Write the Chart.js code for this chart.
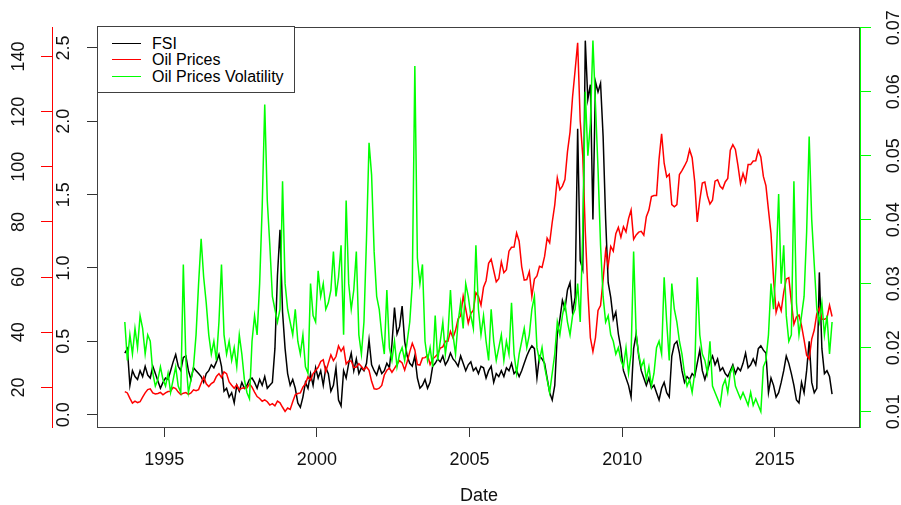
<!DOCTYPE html>
<html>
<head>
<meta charset="utf-8">
<title>FSI, Oil Prices and Oil Prices Volatility</title>
<script src="https://cdn.jsdelivr.net/npm/chart.js"></script>
<style>
  body { margin: 0; background: #fff; font-family: "Liberation Sans", Arial, sans-serif; }
  #wrap { position: relative; width: 901px; height: 505px; }
  #legend { position: absolute; left: 97px; top: 26px; width: 198px; height: 67px; box-sizing: border-box;
            border: 1px solid #404040; background: #fff; font-size: 16px; color: #000; }
  #legend .row { position: absolute; left: 0; height: 18px; line-height: 18px; white-space: nowrap; }
  #legend .key { position: absolute; left: 14px; top: 8px; width: 29px; height: 1.4px; }
  #legend .label { position: absolute; left: 54px; top: 0; }
</style>
</head>
<body>
<div id="wrap">
  <canvas id="chart" width="901" height="505"></canvas>
  <div id="legend">
    <div class="row" style="top: 8px;"><span class="key" style="background: #000;"></span><span class="label">FSI</span></div>
    <div class="row" style="top: 24px;"><span class="key" style="background: #ff0000;"></span><span class="label">Oil Prices</span></div>
    <div class="row" style="top: 41px;"><span class="key" style="background: #00ff00;"></span><span class="label">Oil Prices Volatility</span></div>
  </div>
</div>

<script>
// monthly readings, Sep 1993 .. Nov 2016
const fsi = [
  0.42, 0.45, 0.20, 0.30,
  0.26, 0.24, 0.30, 0.26, 0.33, 0.27, 0.25, 0.33, 0.28, 0.23, 0.18, 0.22,
  0.25, 0.24, 0.30, 0.36, 0.41, 0.33, 0.30, 0.39, 0.40, 0.30, 0.24, 0.32,
  0.30, 0.28, 0.26, 0.22, 0.28, 0.30, 0.34, 0.32, 0.36, 0.41, 0.33, 0.16,
  0.18, 0.12, 0.15, 0.08, 0.20, 0.16, 0.22, 0.18, 0.20, 0.24, 0.25, 0.22,
  0.18, 0.24, 0.20, 0.26, 0.18, 0.20, 0.22, 0.45, 0.95, 1.26, 0.70, 0.45,
  0.28, 0.20, 0.24, 0.18, 0.08, 0.05, 0.12, 0.22, 0.18, 0.28, 0.20, 0.32,
  0.25, 0.30, 0.20, 0.32, 0.28, 0.16, 0.20, 0.32, 0.10, 0.06, 0.30, 0.25,
  0.35, 0.42, 0.30, 0.38, 0.28, 0.32, 0.30, 0.35, 0.51, 0.34, 0.30, 0.27,
  0.33, 0.28, 0.30, 0.35, 0.32, 0.48, 0.73, 0.55, 0.60, 0.74, 0.50, 0.40,
  0.35, 0.33, 0.40, 0.25, 0.18, 0.20, 0.24, 0.18, 0.22, 0.33, 0.35, 0.38,
  0.36, 0.40, 0.34, 0.37, 0.42, 0.38, 0.36, 0.33, 0.40, 0.35, 0.30, 0.34,
  0.36, 0.30, 0.32, 0.28, 0.33, 0.32, 0.25, 0.30, 0.33, 0.22, 0.28, 0.26,
  0.30, 0.26, 0.32, 0.30, 0.35, 0.28, 0.30, 0.26, 0.30, 0.35, 0.40, 0.44,
  0.47, 0.45, 0.25, 0.40, 0.38, 0.35, 0.25, 0.15, 0.10, 0.20, 0.55, 0.65,
  0.78, 0.72, 0.85, 0.90, 0.70, 0.80, 1.95, 1.05, 0.99, 2.55, 2.15, 2.25,
  1.33, 2.27, 2.20, 2.26, 1.90, 1.33, 0.90, 0.80, 0.65, 0.70, 0.55, 0.45,
  0.30, 0.25, 0.20, 0.12, 0.45, 0.55, 0.40, 0.30, 0.25, 0.20, 0.25, 0.18,
  0.20, 0.15, 0.10, 0.18, 0.22, 0.15, 0.12, 0.40, 0.48, 0.50, 0.42, 0.30,
  0.22, 0.26, 0.24, 0.28, 0.26, 0.35, 0.44, 0.30, 0.24, 0.30, 0.36, 0.40,
  0.34, 0.38, 0.30, 0.32, 0.28, 0.26, 0.30, 0.34, 0.28, 0.32, 0.30, 0.35,
  0.42, 0.32, 0.34, 0.38, 0.34, 0.45, 0.47, 0.44, 0.42, 0.15, 0.25, 0.20,
  0.12, 0.15, 0.22, 0.30, 0.40, 0.35, 0.28, 0.20, 0.10, 0.08, 0.22, 0.15,
  0.30, 0.50, 0.22, 0.15, 0.18, 0.97, 0.45, 0.28, 0.30, 0.26, 0.14
];

const oilPrices = [
  18.5, 18.0, 16.0, 14.3,
  15.0, 14.5, 14.8, 16.5, 18.0, 19.2, 19.5, 18.0, 17.6, 17.8, 18.2, 17.3,
  18.0, 18.5, 18.6, 20.0, 19.6, 18.3, 17.4, 17.9, 18.1, 17.5, 18.0, 19.1,
  18.8, 19.2, 21.5, 23.8, 21.3, 20.3, 21.4, 22.0, 24.0, 25.0, 23.6, 25.6,
  25.0, 22.0, 20.8, 19.7, 20.9, 19.1, 19.7, 19.9, 19.8, 21.3, 20.1, 18.3,
  16.7, 16.0, 15.0, 15.5, 14.8, 13.6, 14.1, 13.3, 15.0, 14.4, 12.8, 11.3,
  12.5, 12.0, 14.8, 17.3, 17.8, 18.0, 20.1, 21.3, 23.9, 22.6, 25.0, 26.1,
  27.3, 29.4, 30.0, 25.7, 28.8, 31.8, 29.7, 31.2, 35.0, 33.1, 34.6, 28.5,
  29.6, 29.6, 27.2, 27.4, 28.6, 27.6, 26.4, 27.4, 26.2, 22.2, 19.5, 19.3,
  19.7, 20.7, 24.5, 26.2, 27.0, 25.5, 26.9, 28.4, 29.7, 28.9, 26.3, 29.4,
  32.9, 36.0, 33.6, 28.3, 28.1, 30.7, 30.8, 31.6, 28.3, 30.3, 31.1, 32.1,
  34.3, 34.7, 36.7, 36.7, 40.3, 38.0, 40.7, 44.9, 45.9, 53.1, 48.5, 43.3,
  46.8, 48.0, 54.3, 53.0, 49.8, 56.3, 58.7, 65.0, 66.5, 62.4, 58.3, 59.4,
  65.5, 61.6, 62.7, 69.4, 70.8, 70.9, 76.0, 73.0, 63.8, 58.9, 59.1, 62.0,
  53.0, 59.3, 60.4, 63.9, 63.5, 67.5, 74.1, 72.4, 79.9, 86.2, 96.0, 91.7,
  93.0, 95.4, 105.5, 112.6, 125.4, 135.0, 145.0, 116.7, 104.1, 76.6, 55.0, 38.0,
  33.0, 38.0, 47.9, 49.7, 59.0, 69.6, 64.2, 71.1, 69.4, 75.7, 78.0, 74.5,
  78.3, 76.4, 81.2, 84.3, 73.7, 75.3, 76.3, 76.6, 75.2, 81.9, 84.3, 89.2,
  89.6, 89.6, 102.9, 112.0, 101.3, 96.3, 97.3, 86.3, 85.5, 86.3, 97.2, 98.6,
  100.3, 102.2, 106.2, 103.3, 94.7, 80.0, 87.9, 94.1, 94.5, 89.5, 86.5, 87.9,
  94.8, 95.3, 92.9, 92.0, 94.5, 95.8, 106.0, 108.0, 106.3, 100.5, 93.9, 97.6,
  94.6, 100.8, 100.8, 102.1, 102.2, 106.0, 103.6, 96.5, 93.2, 84.4, 75.8, 59.3,
  47.2, 50.6, 47.8, 54.5, 59.3, 59.8, 50.9, 42.9, 45.5, 46.2, 42.4, 37.2,
  31.7, 30.3, 37.5, 40.8, 46.7, 48.8, 44.7, 44.7, 45.2, 49.8, 45.7
];

const oilVolatility = [
  0.024, 0.018, 0.022, 0.019,
  0.023, 0.020, 0.025, 0.023, 0.019, 0.022, 0.021, 0.016, 0.014, 0.015, 0.017, 0.015,
  0.014, 0.016, 0.013, 0.015, 0.017, 0.014, 0.013, 0.033, 0.018, 0.013, 0.015, 0.017,
  0.022, 0.030, 0.037, 0.031, 0.027, 0.022, 0.019, 0.021, 0.018, 0.024, 0.033, 0.022,
  0.019, 0.021, 0.018, 0.020, 0.017, 0.022, 0.019, 0.015, 0.013, 0.012, 0.021, 0.025,
  0.022, 0.030, 0.042, 0.058, 0.043, 0.036, 0.028, 0.026, 0.024, 0.026, 0.046, 0.030,
  0.026, 0.024, 0.022, 0.026, 0.021, 0.019, 0.022, 0.017, 0.016, 0.030, 0.025, 0.024,
  0.032, 0.028, 0.030, 0.026, 0.027, 0.029, 0.035, 0.028, 0.031, 0.036, 0.022, 0.043,
  0.030, 0.026, 0.029, 0.035, 0.022, 0.019, 0.024, 0.037, 0.052, 0.047, 0.035, 0.028,
  0.026, 0.022, 0.019, 0.029, 0.020, 0.018, 0.021, 0.017, 0.019, 0.020, 0.018, 0.021,
  0.024, 0.030, 0.064, 0.034, 0.030, 0.033, 0.021, 0.018, 0.020, 0.017, 0.025, 0.018,
  0.021, 0.024, 0.019, 0.022, 0.029, 0.022, 0.019, 0.024, 0.027, 0.023, 0.030, 0.028,
  0.025, 0.023, 0.036, 0.026, 0.022, 0.025, 0.021, 0.018, 0.026, 0.021, 0.018, 0.020,
  0.022, 0.018, 0.021, 0.019, 0.027, 0.019, 0.016, 0.019, 0.021, 0.023, 0.020, 0.022,
  0.026, 0.028, 0.020, 0.018, 0.020, 0.017, 0.015, 0.013, 0.016, 0.019, 0.024, 0.022,
  0.025, 0.027, 0.024, 0.022, 0.025, 0.026, 0.030, 0.024, 0.038, 0.060, 0.050, 0.055,
  0.068, 0.058, 0.048, 0.036, 0.028, 0.024, 0.025, 0.022, 0.021, 0.019, 0.020, 0.018,
  0.017, 0.020, 0.016, 0.019, 0.035, 0.022, 0.019, 0.017, 0.018, 0.015, 0.017, 0.014,
  0.016, 0.020, 0.021, 0.019, 0.031, 0.024, 0.018, 0.030, 0.026, 0.024, 0.021, 0.019,
  0.016, 0.014, 0.015, 0.013, 0.016, 0.031, 0.022, 0.019, 0.018, 0.016, 0.021, 0.014,
  0.013, 0.012, 0.011, 0.014, 0.015, 0.013, 0.016, 0.017, 0.014, 0.013, 0.012, 0.013,
  0.012, 0.011, 0.013, 0.011, 0.012, 0.011, 0.010, 0.017, 0.018, 0.022, 0.030, 0.026,
  0.033, 0.044, 0.030, 0.036, 0.025, 0.021, 0.022, 0.046, 0.027, 0.022, 0.025, 0.028,
  0.038, 0.053, 0.040, 0.033, 0.026, 0.024, 0.027, 0.022, 0.025, 0.019, 0.024
];

const yearTicks = [1995, 2000, 2005, 2010, 2015];
const fsiTicks = [0, 0.5, 1, 1.5, 2, 2.5];
const oilTicks = [20, 40, 60, 80, 100, 120, 140];
const volTicks = [0.01, 0.02, 0.03, 0.04, 0.05, 0.06, 0.07];

// decimal year at the middle of each month, starting Sep 1993
const dates = [];
for (let y = 1993, m = 9; dates.length < fsi.length; ) {
  dates.push(y + (m - 0.5) / 12);
  if (++m > 12) { m = 1; y++; }
}
const points = values => values.map((v, i) => ({ x: dates[i], y: v }));

const tickFont = { family: '"Liberation Sans", Arial, sans-serif', size: 18 };
const useTicks = values => scale => { scale.ticks = values.map(v => ({ value: v })); };
const fixWidth = w => scale => { scale.width = w; };

// grey frame round the plot area, like R's box()
const plotFrame = {
  id: 'plotFrame',
  afterDatasetsDraw(chart) {
    const { ctx, chartArea: a } = chart;
    ctx.save();
    ctx.strokeStyle = '#404040';
    ctx.lineWidth = 1;
    ctx.strokeRect(a.left - 0.5, a.top + 0.5, a.right - a.left, a.bottom - a.top);
    ctx.restore();
  }
};

new Chart(document.getElementById('chart'), {
  type: 'line',
  data: {
    datasets: [
      { label: 'FSI', data: points(fsi), yAxisID: 'yFsi', borderColor: '#000000', order: 2 },
      { label: 'Oil Prices', data: points(oilPrices), yAxisID: 'yOil', borderColor: '#ff0000', order: 1 },
      { label: 'Oil Prices Volatility', data: points(oilVolatility), yAxisID: 'yVol', borderColor: '#00ff00', order: 0 }
    ]
  },
  options: {
    responsive: false,
    animation: false,
    layout: { padding: { top: 27, left: 0, right: 0, bottom: 0 } },
    elements: {
      line: { borderWidth: 1.5, tension: 0, fill: false },
      point: { radius: 0, hoverRadius: 0 }
    },
    plugins: { legend: { display: false }, tooltip: { enabled: false } },
    scales: {
      x: {
        type: 'linear', position: 'bottom', min: 1992.83, max: 2017.79,
        afterBuildTicks: useTicks(yearTicks),
        afterFit: scale => { scale.height = 78; },
        border: { display: false },
        grid: { drawOnChartArea: false, tickLength: 10, tickColor: '#333' },
        ticks: { font: tickFont, color: '#111', padding: 12, autoSkip: false, maxRotation: 0, callback: v => String(v) },
        title: { display: true, text: 'Date', color: '#111', font: { ...tickFont, lineHeight: 1 }, padding: { top: 0, bottom: 0 } }
      },
      yOil: {
        type: 'linear', position: 'left', weight: 2, min: 5.64, max: 150.7,
        afterBuildTicks: useTicks(oilTicks),
        afterFit: fixWidth(52),
        border: { display: true, color: '#ff0000', width: 1 },
        grid: { drawOnChartArea: false, tickLength: 11, tickColor: '#ff0000' },
        ticks: { font: tickFont, color: '#111', padding: 7, minRotation: 90, maxRotation: 90,
                 crossAlign: 'center', autoSkip: false, callback: v => String(v) }
      },
      yFsi: {
        type: 'linear', position: 'left', weight: 1, min: -0.084, max: 2.643,
        afterBuildTicks: useTicks(fsiTicks),
        afterFit: fixWidth(46),
        border: { display: false },
        grid: { drawOnChartArea: false, tickLength: 11, tickColor: '#333' },
        ticks: { font: tickFont, color: '#111', padding: 10, minRotation: 90, maxRotation: 90,
                 crossAlign: 'center', autoSkip: false, callback: v => v.toFixed(1) }
      },
      yVol: {
        type: 'linear', position: 'right', min: 0.0076, max: 0.0701,
        afterBuildTicks: useTicks(volTicks),
        afterFit: fixWidth(41),
        border: { display: true, color: '#00ff00', width: 1 },
        grid: { drawOnChartArea: false, tickLength: 11, tickColor: '#00ff00' },
        ticks: { font: tickFont, color: '#111', padding: 6, minRotation: 90, maxRotation: 90,
                 crossAlign: 'center', autoSkip: false, callback: v => v.toFixed(2) }
      }
    }
  },
  plugins: [plotFrame]
});
</script>
</body>
</html>
